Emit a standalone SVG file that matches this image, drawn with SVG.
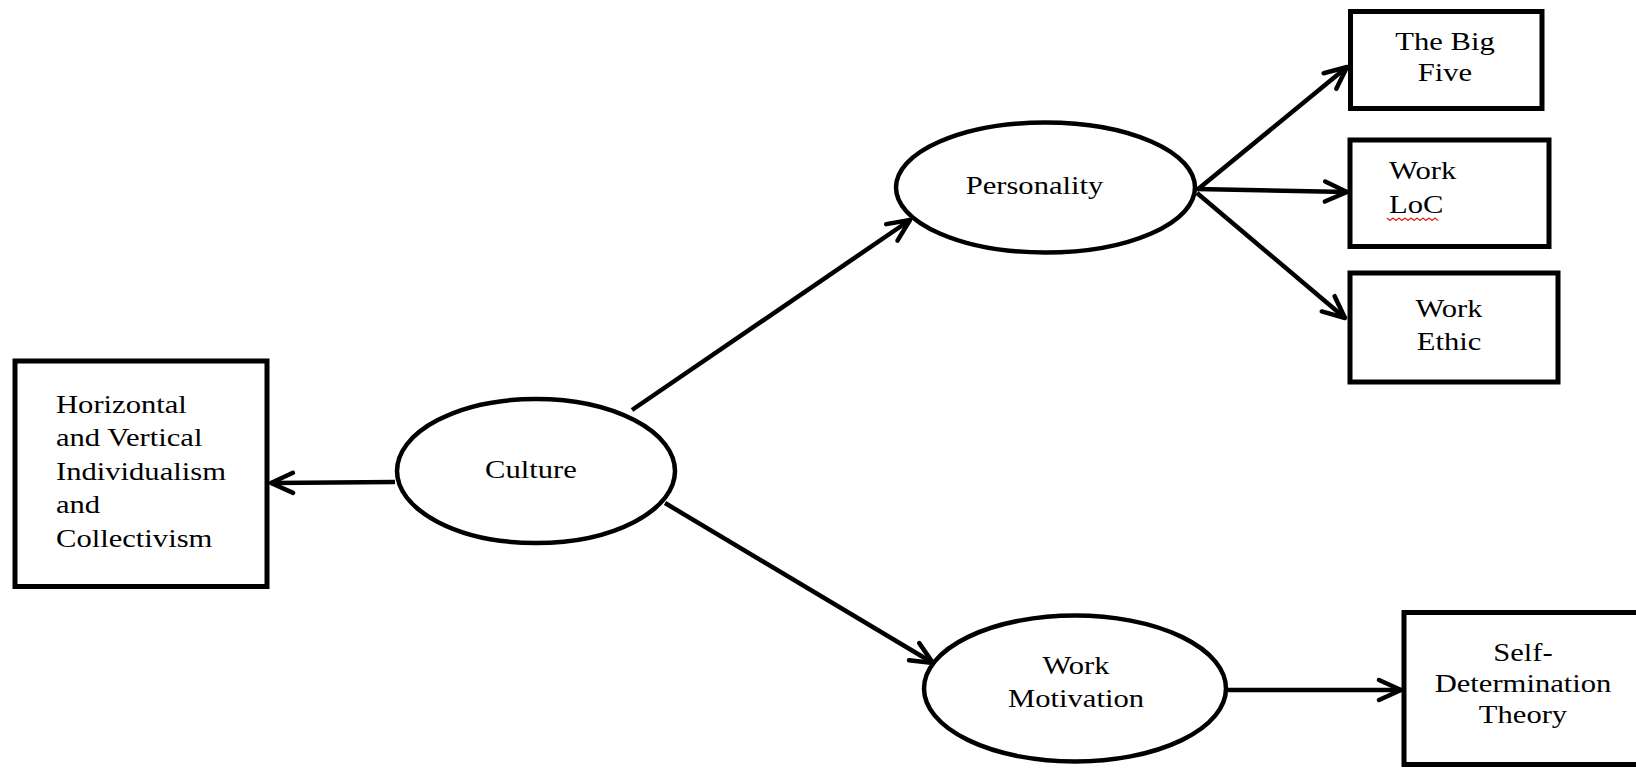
<svg xmlns="http://www.w3.org/2000/svg" width="1636" height="768" viewBox="0 0 1636 768">
<style>
.box{fill:#fff;stroke:#000;stroke-width:5}
.ell{fill:#fff;stroke:#000;stroke-width:4.5}
.lbl{font-family:"Liberation Serif","Times New Roman",serif;font-size:25.5px;fill:#000}
.mid{text-anchor:middle}
.con{stroke:#000;stroke-width:4.5;fill:none;marker-end:url(#arr)}
</style>
<defs>
<marker id="arr" markerUnits="userSpaceOnUse" markerWidth="40" markerHeight="40" refX="0" refY="0" orient="auto" overflow="visible">
<path d="M -22 -10 L 0 0 L -22 10" fill="none" stroke="#000" stroke-width="4.5" stroke-linecap="round" stroke-linejoin="round"/>
</marker>
</defs>
<rect width="1636" height="768" fill="#fff"/>
<g id="connectors">
<path class="con" d="M 395 482 L 271 483"/>
<path class="con" d="M 632 410 L 910 220"/>
<path class="con" d="M 665 503 L 933 663"/>
<path class="con" d="M 1197 190 L 1347 67"/>
<path class="con" d="M 1197 189 L 1347 192"/>
<path class="con" d="M 1197 193 L 1345 318"/>
<path class="con" d="M 1228 690 L 1401 690"/>
</g>
<g id="node-hv">
<rect class="box" x="15" y="361" width="252" height="225.5"/>
<text class="lbl" transform="translate(56,413) scale(1.2,1)"><tspan x="0" dy="0">Horizontal</tspan><tspan x="0" dy="33.5">and Vertical</tspan><tspan x="0" dy="33.5">Individualism</tspan><tspan x="0" dy="33.5">and</tspan><tspan x="0" dy="33.5">Collectivism</tspan></text>
</g>
<g id="node-culture">
<ellipse class="ell" cx="536" cy="471" rx="139" ry="72"/>
<text class="lbl mid" transform="translate(531,477.5) scale(1.2,1)">Culture</text>
</g>
<g id="node-personality">
<ellipse class="ell" cx="1045.5" cy="187.5" rx="149.5" ry="65"/>
<text class="lbl mid" transform="translate(1034.5,194) scale(1.2,1)">Personality</text>
</g>
<g id="node-motivation">
<ellipse class="ell" cx="1075" cy="688.5" rx="151" ry="73"/>
<text class="lbl mid" transform="translate(1076,674) scale(1.2,1)"><tspan x="0" dy="0">Work</tspan><tspan x="0" dy="33">Motivation</tspan></text>
</g>
<g id="node-bigfive">
<rect class="box" x="1350.5" y="11.5" width="191.5" height="97"/>
<text class="lbl mid" transform="translate(1445,49.5) scale(1.2,1)"><tspan x="0" dy="0">The Big</tspan><tspan x="0" dy="32">Five</tspan></text>
</g>
<g id="node-loc">
<rect class="box" x="1350" y="140" width="199" height="106.5"/>
<text class="lbl" transform="translate(1389,179.3) scale(1.2,1)"><tspan x="0" dy="0">Work</tspan><tspan x="0" dy="33.4">LoC</tspan></text>
<path d="M 1387 218 l 3 2.5 l 3 -2.5 l 3 2.5 l 3 -2.5 l 3 2.5 l 3 -2.5 l 3 2.5 l 3 -2.5 l 3 2.5 l 3 -2.5 l 3 2.5 l 3 -2.5 l 3 2.5 l 3 -2.5 l 3 2.5 l 3 -2.5 l 3 2.5" fill="none" stroke="#e02020" stroke-width="1.2"/>
</g>
<g id="node-ethic">
<rect class="box" x="1350" y="273" width="208" height="109"/>
<text class="lbl mid" transform="translate(1449,317.3) scale(1.2,1)"><tspan x="0" dy="0">Work</tspan><tspan x="0" dy="32.7">Ethic</tspan></text>
</g>
<g id="node-sdt">
<rect class="box" x="1404" y="612.5" width="260" height="152"/>
<text class="lbl mid" transform="translate(1523,661) scale(1.2,1)"><tspan x="0" dy="0">Self-</tspan><tspan x="0" dy="31.5">Determination</tspan><tspan x="0" dy="31">Theory</tspan></text>
</g>
</svg>
